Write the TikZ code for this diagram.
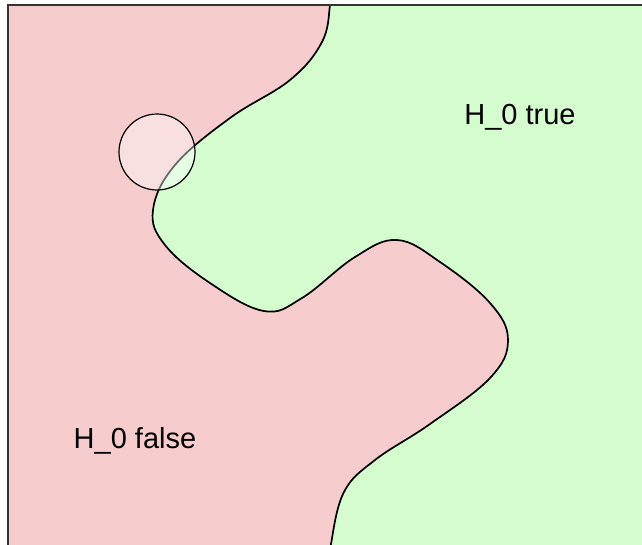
\documentclass[tikz,border=0pt]{standalone}
\usepackage{fontspec}
\setmainfont{Liberation Sans}
\usetikzlibrary{positioning}

\definecolor{falsepink}{RGB}{246,204,204}
\definecolor{truegreen}{RGB}{213,252,207}

\begin{document}
\begin{tikzpicture}[x=1pt, y=-1pt,
                region_label/.style={anchor=base, inner sep=0pt, font=\fontsize{29}{34}\selectfont},
                spot/.style={circle, draw, line width=1.2pt, fill=white, fill opacity=0.4, minimum size=76pt, inner sep=0pt}
            ]
                \useasboundingbox (0,0) rectangle (642,544);

                \begin{scope}
                    \clip (8,5) rectangle (642,544);
                    % background: H_0 false everywhere, then the H_0 true side
                    \fill[falsepink] (8,5) rectangle (660,560);
                    \fill[truegreen] plot[smooth, tension=0.65] coordinates {(330,-10) (330,5) (322,42) (290,80) (230,118) (175,165) (153,210) (165,245) (210,283) (264,311) (302,298) (355,257) (397,240) (440,262) (490,303) (508,340) (490,378) (430,424) (375,460) (344,492) (331,544) (331,560)}
                        -- (660,560) -- (660,-10) -- cycle;
                    \draw[line width=1.7pt] plot[smooth, tension=0.65] coordinates {(330,-10) (330,5) (322,42) (290,80) (230,118) (175,165) (153,210) (165,245) (210,283) (264,311) (302,298) (355,257) (397,240) (440,262) (490,303) (508,340) (490,378) (430,424) (375,460) (344,492) (331,544) (331,560)};
                \end{scope}

                % frame
                \draw[line width=1.5pt, black!80] (8,560) -- (8,5) -- (660,5);

                \node[spot] (probe) at (157,152) {};

                \node[region_label] (htrue) at (520,124) {H\_0 true};
                \node[region_label] (hfalse) at (135,448) {H\_0 false};
            \end{tikzpicture}
\end{document}
